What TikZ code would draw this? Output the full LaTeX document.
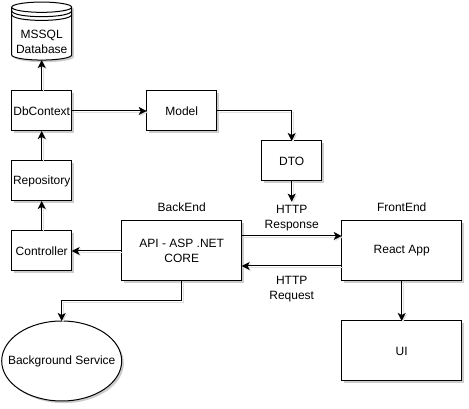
\documentclass[tikz,border=0pt]{standalone}
\usepackage{fontspec}
\setmainfont{Liberation Sans}
\usetikzlibrary{arrows.meta,positioning,shadows,shapes.geometric}

\begin{document}
\begin{tikzpicture}[
    x=0.75pt, y=-0.75pt,
    line width=0.75pt,
    font=\fontsize{9}{11}\selectfont,
    softshadow/.style={drop shadow={shadow xshift=1.6pt, shadow yshift=-1.6pt, fill=black, opacity=0.2}},
    box/.style={draw, fill=white, outer sep=0pt, minimum width=45pt, minimum height=30pt, inner sep=1pt, align=center, softshadow},
    bigbox/.style={box, minimum width=90pt, minimum height=45pt},
    store/.style={draw, fill=white, outer sep=0pt, cylinder, shape border rotate=90, aspect=0.2, minimum width=45pt, minimum height=43.5pt, inner sep=0pt, align=center, softshadow},
    service/.style={draw, fill=white, outer sep=0pt, ellipse, minimum width=90pt, minimum height=60pt, inner ysep=0pt, inner xsep=-9pt, softshadow},
    tag/.style={inner sep=0pt, outer sep=0pt, align=center},
    arrow/.style={-{Stealth[length=6pt, width=6pt, inset=1.5pt]},
      preaction={draw=black!12, transform canvas={xshift=1pt, yshift=-1pt}}}
  ]
    \useasboundingbox (0,0) rectangle (469,409);

    \node[box] (dbcontext) at (41.7,111) {DbContext};
    \node[store, above=23.2pt of dbcontext] (mssql) {\rule{0pt}{18.5pt}MSSQL\\Database};
    \node[box, minimum width=52.5pt, right=56.25pt of dbcontext] (model) {Model};
    \node[box, below=22.5pt of dbcontext] (repository) {Repository};
    \node[box, below=22.5pt of repository] (controller) {Controller};
    \node[box, below right=7.5pt and 33.75pt of model] (dto) {DTO};
    \node[bigbox, right=37.5pt of controller] (api) {API - ASP .NET\\CORE};
    \node[bigbox, right=75pt of api] (react) {React App};
    \node[bigbox, below=30pt of react] (ui) {UI};
    \node[service, below=37.5pt of controller, xshift=15pt] (background) {Background Service};

    \node[tag, above=7pt of api] (backend) {BackEnd};
    \node[tag, above=7pt of react] (frontend) {FrontEnd};
    \node[tag, below=18.5pt of dto] (response) {HTTP\\Response};
    \node[tag, below=34pt of response] (request) {HTTP\\Request};

    % extra rims of the database
    \draw ([yshift=-2.6pt]mssql.before top) .. controls +(0,8) and +(0,8) .. ([yshift=-2.6pt]mssql.after top);
    \draw ([yshift=-5.4pt]mssql.before top) .. controls +(0,8) and +(0,8) .. ([yshift=-5.4pt]mssql.after top);

    \draw[arrow] (dbcontext) -- (mssql);
    \draw[arrow] (dbcontext) -- (model);
    \draw[arrow] (repository) -- (dbcontext);
    \draw[arrow] (controller) -- (repository);
    \draw[arrow] (api) -- (controller);
    \draw[arrow] (model) -| (dto);
    \draw[arrow, shorten >=3pt] (dto) -- (response);
    \draw[arrow] ([yshift=11.25pt]api.east) -- ([yshift=11.25pt]react.west);
    \draw[arrow] ([yshift=-11.25pt]react.west) -- ([yshift=-11.25pt]api.east);
    \draw[arrow] (react) -- (ui);
    \draw[arrow] (api.south) -- ++(0,20) -| (background.north);
  \end{tikzpicture}
\end{document}
